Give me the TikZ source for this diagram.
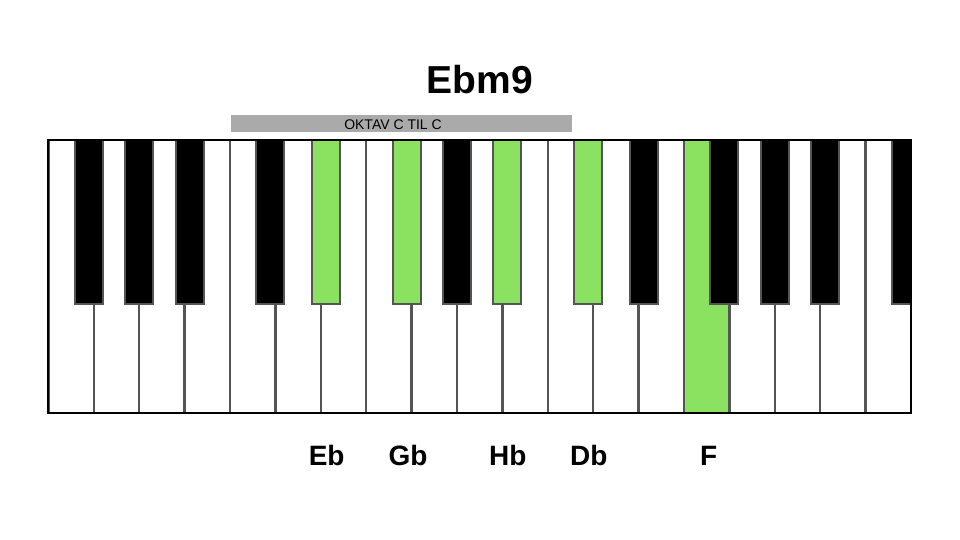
\documentclass[tikz,border=0pt]{standalone}
\usepackage{fontspec}
\setmainfont{Liberation Sans}
\definecolor{keygreen}{RGB}{138,226,96}
\definecolor{keyline}{RGB}{85,85,85}
\definecolor{bargray}{RGB}{170,170,170}
\begin{document}
\begin{tikzpicture}[x=1pt,y=-1pt,
	whitekey/.style={draw=keyline,line width=2.4pt,fill=white},
	blackkey/.style={draw=keyline,line width=2pt},
	notelabel/.style={anchor=base,font=\fontsize{28}{28}\selectfont\bfseries,inner sep=0pt}]
		\useasboundingbox (0,0) rectangle (960,540);
		\node[anchor=base,font=\fontsize{39}{39}\selectfont\bfseries,inner sep=0pt] (title) at (480,93.3) {Ebm9};
		\fill[bargray] (231,115) rectangle (571.7,132.3);
		\node[anchor=base,font=\fontsize{14}{14}\selectfont,inner sep=0pt] (octave) at (393,129.3) {OKTAV C TIL C};
		\begin{scope}
		\clip (48.3,140) rectangle (910.9,413);
		\foreach \i in {0,...,18}
			\draw[whitekey] ({48.3+\i*45.4},140) rectangle ++(45.4,273);
		\draw[whitekey,fill=keygreen] ({48.3+14*45.4},140) rectangle ++(45.4,273);
		\foreach \d/\o/\c in {1/-5/black,2/0/black,3/5/black,5/-5/black,6/5/keygreen,8/-5/keygreen,9/0/black,10/5/keygreen,12/-5/keygreen,13/5/black,15/-5/black,16/0/black,17/5/black,19/-5/black}
			\draw[blackkey,fill=\c] ({48.3+\d*45.4+\o-14},140) rectangle ++(28,164);
		\end{scope}
		\draw[line width=1.8pt] (48.3,140) rectangle (910.9,413);
		\node[notelabel] (eb) at (326.7,465) {Eb};
		\node[notelabel] (gb) at (408,465) {Gb};
		\node[notelabel] (hb) at (507.7,465) {Hb};
		\node[notelabel] (db) at (588.7,465) {Db};
		\node[notelabel] (f) at (708.7,465) {F};
		\end{tikzpicture}
\end{document}
